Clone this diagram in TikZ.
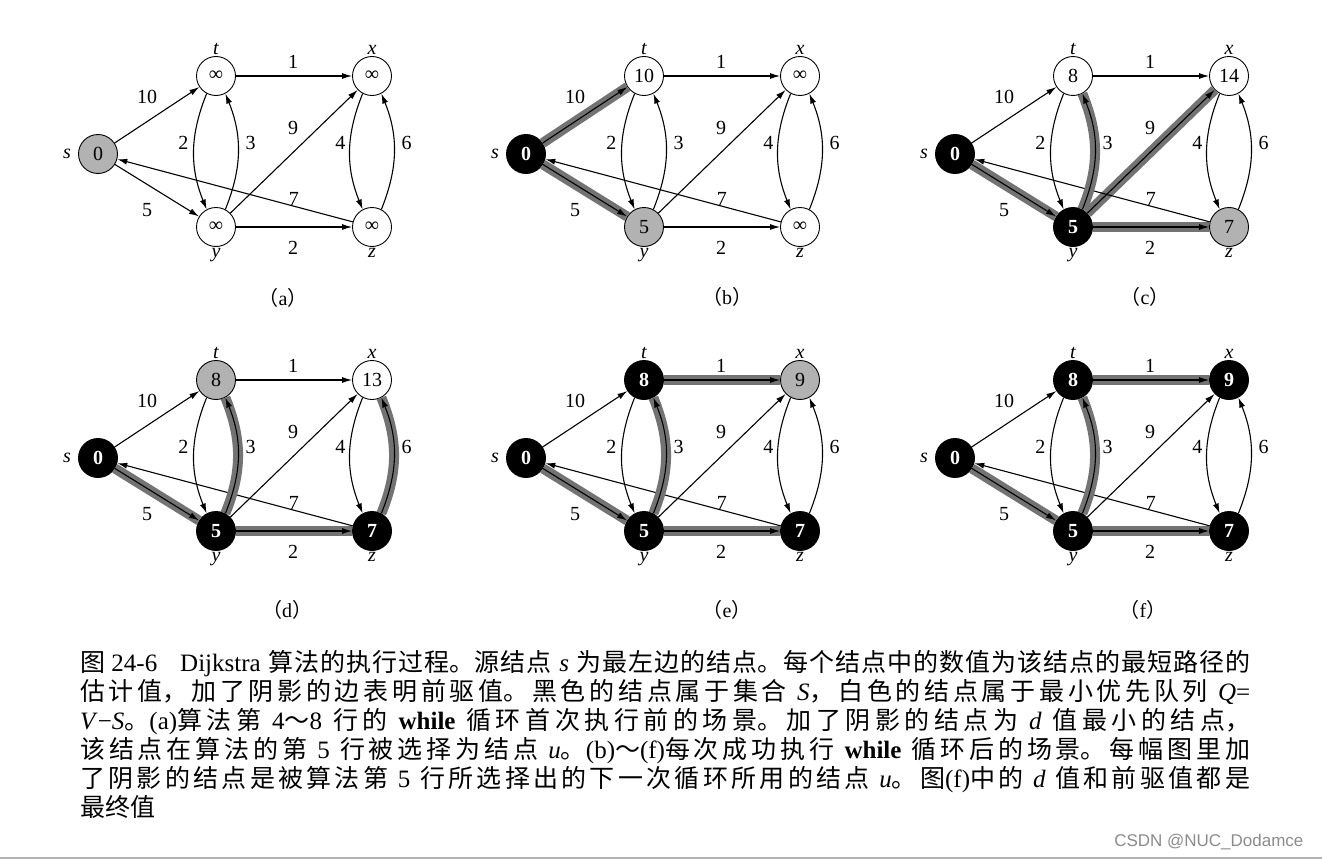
\documentclass[tikz,border=0pt]{standalone}
\usepackage{fontspec}
\setmainfont{Liberation Serif}
\setsansfont{Liberation Sans}
\newfontfamily\zh{Noto Sans CJK SC}
\XeTeXlinebreaklocale "zh"
\XeTeXlinebreakskip=0pt plus 3pt
\usetikzlibrary{positioning,arrows.meta}

\newcommand\en[1]{{\rmfamily #1}}
% one stage of the run: d values of s,t,x,y,z, panel letter, place of the letter
\newcommand\dgraph[7]{%
  \node[vtx,vs] (s) at (98,-154)  {#1};
  \node[vtx,vt] (t) at (216,-76)  {#2};
  \node[vtx,vx] (x) at (372,-76)  {#3};
  \node[vtx,vy] (y) at (216,-227) {#4};
  \node[vtx,vz] (z) at (372,-227) {#5};
  \node[nm,left=6pt of s]  (sn) {s};
  \node[nm,above=0pt of t] (tn) {t};
  \node[nm,above=0pt of x] (xn) {x};
  \node[nm,below=0pt of y] (yn) {y};
  \node[nm,below=0pt of z] (zn) {z};
  \draw[arr,pst] (s) -- node[wt,xshift=-10pt,yshift=18pt] (w1) {10} (t);
  \draw[arr,psy] (s) -- node[wt,xshift=-10pt,yshift=-19.5pt] (w2) {5} (y);
  \draw[arr,ptx] (t) -- node[wt,xshift=-1pt,yshift=14pt] (w3) {1} (x);
  \draw[arr,pyz] (y) -- node[wt,xshift=-1pt,yshift=-21pt] (w4) {2} (z);
  \draw[arr,pyx] (y) -- node[wt,xshift=-1pt,yshift=23.5pt] (w5) {9} (x);
  \draw[arr] (z) -- node[wt,pos=.25,yshift=7pt] (w6) {7} (s);
  \draw[arr] (t.-118) to[bend right=22] node[wt,xshift=-10.5pt,yshift=8.5pt] (w7) {2} (y.118);
  \draw[arr,pyt] (y.62) to[bend right=22] node[wt,xshift=12.5pt,yshift=8.5pt] (w8) {3} (t.-62);
  \draw[arr] (x.-118) to[bend right=22] node[wt,xshift=-9.5pt,yshift=8.5pt] (w9) {4} (z.118);
  \draw[arr,pzx] (z.62) to[bend right=22] node[wt,xshift=12.5pt,yshift=8.5pt] (w10) {6} (x.-62);
  \node[tag] (lab) at (#7) {（\en{#6}）};
}

\begin{document}
\begin{tikzpicture}[
    x=1pt, y=1pt,
    vtx/.style={circle, draw, line width=0.9, minimum size=39, inner sep=0, font=\fontsize{20}{20}\selectfont},
    wht/.style={fill=white},
    gry/.style={fill=black!30},
    blk/.style={fill=black, text=white, font=\bfseries\fontsize{20}{20}\selectfont},
    vs/.style=wht, vt/.style=wht, vx/.style=wht, vy/.style=wht, vz/.style=wht,
    nm/.style={font=\itshape\fontsize{20}{20}\selectfont, inner sep=1},
    wt/.style={font=\fontsize{20}{20}\selectfont, inner sep=0},
    tag/.style={font=\zh\fontsize{20}{20}\selectfont, inner sep=0},
    arr/.style={-{Latex[length=10pt,width=6pt]}, line width=1.1},
    tree/.style={preaction={draw, black!55, line width=10, -}},
    pst/.style={}, psy/.style={}, ptx/.style={}, pyz/.style={},
    pyx/.style={}, pyt/.style={}, pzx/.style={},
    captext/.style={font=\zh\fontsize{25}{29}\selectfont, text width=1170pt, align=justify, inner sep=0}
  ]
  \fill[white] (0,0) rectangle (1322,-859);
  \useasboundingbox (0,0) rectangle (1322,-859);

  % (a) before the first pass of the loop
  \begin{scope}[name prefix=a-, vs/.style=gry]
    \dgraph{0}{∞}{∞}{∞}{∞}{a}{283,-298}
  \end{scope}
  % (b)
  \begin{scope}[shift={(428,0)}, name prefix=b-, vs/.style=blk, vy/.style=gry,
      pst/.style=tree, psy/.style=tree]
    \dgraph{0}{10}{∞}{5}{∞}{b}{299,-297}
  \end{scope}
  % (c)
  \begin{scope}[shift={(857,0)}, name prefix=c-, vs/.style=blk, vy/.style=blk, vz/.style=gry,
      psy/.style=tree, pyt/.style=tree, pyx/.style=tree, pyz/.style=tree]
    \dgraph{0}{8}{14}{5}{7}{c}{288,-297}
  \end{scope}
  % (d)
  \begin{scope}[shift={(0,-304)}, name prefix=d-, vs/.style=blk, vt/.style=gry, vy/.style=blk, vz/.style=blk,
      psy/.style=tree, pyt/.style=tree, pyz/.style=tree, pzx/.style=tree]
    \dgraph{0}{8}{13}{5}{7}{d}{287,-306}
  \end{scope}
  % (e)
  \begin{scope}[shift={(428,-304)}, name prefix=e-, vs/.style=blk, vt/.style=blk, vx/.style=gry, vy/.style=blk, vz/.style=blk,
      psy/.style=tree, pyt/.style=tree, pyz/.style=tree, ptx/.style=tree]
    \dgraph{0}{8}{9}{5}{7}{e}{299,-306}
  \end{scope}
  % (f) final values
  \begin{scope}[shift={(857,-304)}, name prefix=f-, vs/.style=blk, vt/.style=blk, vx/.style=blk, vy/.style=blk, vz/.style=blk,
      psy/.style=tree, pyt/.style=tree, pyz/.style=tree, ptx/.style=tree]
    \dgraph{0}{8}{9}{5}{7}{f}{286,-306}
  \end{scope}

  % caption
  \node[captext, anchor=north west] (capt) at (80,-650) {\hangindent=100pt\hangafter=1\noindent
    \makebox[100pt][l]{图\en{ 24-6}}\en{Dijkstra }算法的执行过程。源结点\en{ \textit{s} }为最左边的结点。每个结点中的数值为该结点的最短路径的\linebreak
    估计值，加了阴影的边表明前驱值。黑色的结点属于集合\en{ \textit{S}}，白色的结点属于最小优先队列\en{ \textit{Q}=}\linebreak
    \en{\textit{V}−\textit{S}}。\en{(a)}算法第\en{ 4}～\en{8 }行的\en{ \textbf{while} }循环首次执行前的场景。加了阴影的结点为\en{ \textit{d} }值最小的结点，\linebreak
    该结点在算法的第\en{ 5 }行被选择为结点\en{ \textit{u}}。\en{(b)}～\en{(f)}每次成功执行\en{ \textbf{while} }循环后的场景。每幅图里加\linebreak
    了阴影的结点是被算法第\en{ 5 }行所选择出的下一次循环所用的结点\en{ \textit{u}}。图\en{(f)}中的\en{ \textit{d} }值和前驱值都是\linebreak
    最终值};
  \node[anchor=east, font=\sffamily\fontsize{17}{17}\selectfont, text=black!45] (mark) at (1307,-842) {CSDN @NUC\_Dodamce};
  \draw[black!30, line width=2] (0,-858) -- (1322,-858);
\end{tikzpicture}
\end{document}
